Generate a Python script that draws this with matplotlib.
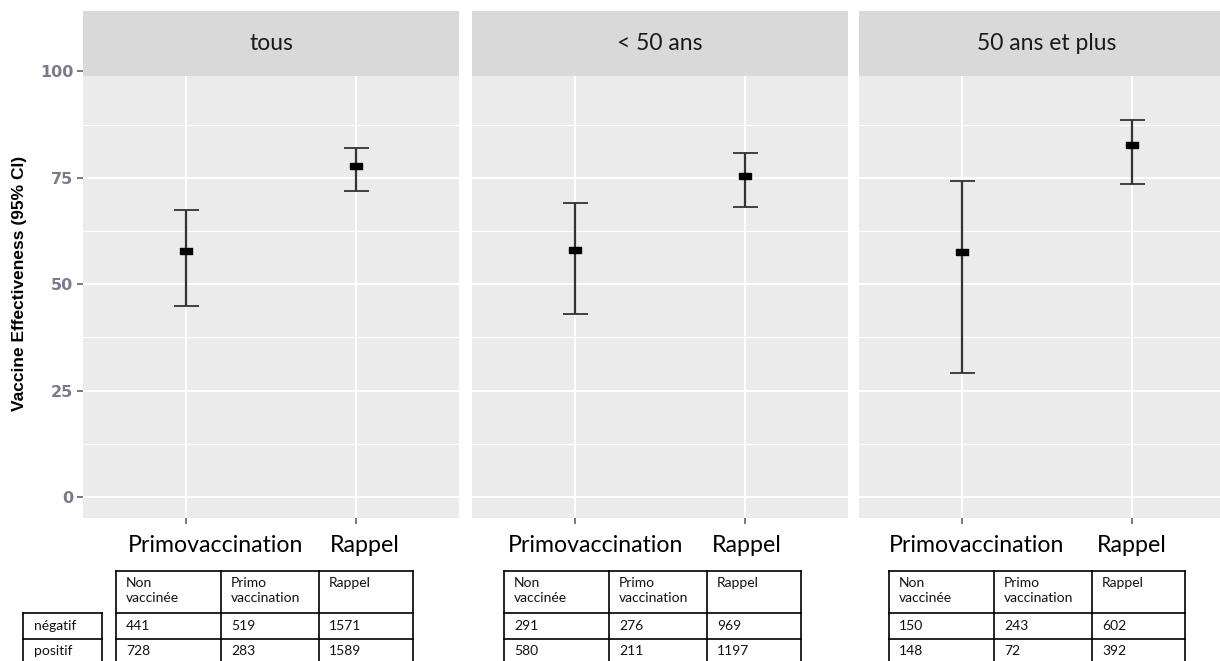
import numpy as np
import matplotlib.pyplot as plt
from matplotlib.patches import Rectangle

# ---- data ----
facets = ['tous', '< 50 ans', '50 ans et plus']
groupes = ['Primovaccination', 'Rappel']
ve = [[57.8, 77.8], [58.0, 75.4], [57.5, 82.8]]
ve_bas = [[44.9, 72.0], [43.1, 68.1], [29.2, 73.6]]
ve_haut = [[67.4, 81.9], [69.0, 80.9], [74.3, 88.5]]
y_ticks = [0, 25, 50, 75, 100]
y_minor = [12.5, 37.5, 62.5, 87.5]

col_labels = ['Non\nvaccinée', 'Primo\nvaccination', 'Rappel']
row_labels = ['négatif', 'positif']
effectifs = [
    [[441, 519, 1571], [728, 283, 1589]],
    [[291, 276, 969], [580, 211, 1197]],
    [[150, 243, 602], [148, 72, 392]],
]

W, H = 1220, 661
TXT = 'Lato'

fig = plt.figure(figsize=(W / 100, H / 100), dpi=100)

# overlay in pixel coordinates for the annotation boxes
ov = fig.add_axes([0, 0, 1, 1], zorder=5)
ov.set_xlim(0, W)
ov.set_ylim(H, 0)
ov.axis('off')
ov.patch.set_visible(False)

panel_left = [83, 472, 859]
panel_w = 376
top, bottom = 11, 517.7
strip_h = 65
y0 = -4.87
y1 = 114.2

# little black rectangle marker (wider than tall, as in the picture)
rect = [(-1, -0.58), (1, -0.58), (1, 0.58), (-1, 0.58), (-1, -0.58)]

x = np.arange(1, len(groupes) + 1)
for i, name in enumerate(facets):
    l = panel_left[i]
    ax = fig.add_axes([l / W, 1 - bottom / H, panel_w / W, (bottom - top) / H])
    ax.set_facecolor('#EBEBEB')
    ax.set_xlim(0.4, 2.6)
    ax.set_ylim(y0, y1)
    ax.set_axisbelow(True)
    for s in ax.spines.values():
        s.set_visible(False)

    v = np.array(ve[i])
    lo = v - np.array(ve_bas[i])
    hi = np.array(ve_haut[i]) - v
    ax.errorbar(x, v, yerr=[lo, hi], fmt='none', ecolor='#333333',
                elinewidth=1.6, capsize=9, capthick=1.3, zorder=3)
    ax.plot(x, v, ls='none', marker=rect, ms=8.5, color='black', zorder=4)

    ax.set_xticks(x)
    ax.set_xticklabels([])
    ax.set_yticks(y_ticks)
    ax.set_yticks(y_minor, minor=True)
    ax.grid(which='major', color='white', lw=1.5)
    ax.grid(which='minor', axis='y', color='white', lw=0.8)
    ax.tick_params(axis='x', length=4, width=1.1, color='#555555')
    ax.tick_params(axis='y', which='minor', length=0)
    if i == 0:
        ax.tick_params(axis='y', length=4, width=1.1, color='#555555',
                       labelcolor='#7A7A8C', labelsize=11.5, pad=3)
        ax.set_yticklabels([str(t) for t in y_ticks], fontweight='bold')
    else:
        ax.tick_params(axis='y', length=0, labelleft=False)

    # facet strip
    sf = strip_h / (bottom - top)
    ax.add_patch(Rectangle((0, 1 - sf), 1, sf, transform=ax.transAxes,
                           facecolor='#D9D9D9', edgecolor='none', zorder=2,
                           clip_on=False))
    ax.text(0.5, 1 - sf / 2, name, transform=ax.transAxes, ha='center',
            va='center', fontsize=16.5, color='#1A1A1A', family=TXT, zorder=6)

fig.text(20 / W, 1 - 283 / H, 'Vaccine Effectiveness (95% CI)', rotation=90,
         ha='center', va='center', fontsize=12.5, fontweight='bold',
         family=['Liberation Sans Narrow', 'Liberation Sans', 'DejaVu Sans'])

# category labels under each panel
lab_x = [[128, 330], [508, 712], [889, 1097]]
for i in range(3):
    for j, g in enumerate(groupes):
        ov.text(lab_x[i][j], 545, g, ha='left', va='center', fontsize=16.7,
                family=TXT, color='black')

# count tables
tab_cols = [[116, 221, 319, 413], [504, 609, 707, 801], [889, 994, 1092, 1185]]
t_top, t_head, t_r1, t_r2 = 571, 613, 639, 665
lw = 1.2
fs_tab = 10
for k in range(3):
    xs = tab_cols[k]
    for yy in (t_top, t_head, t_r1):
        ov.plot([xs[0], xs[-1]], [yy, yy], color='black', lw=lw)
    for xx in xs:
        ov.plot([xx, xx], [t_top, t_r2], color='black', lw=lw)
    for c, lab in enumerate(col_labels):
        ov.text(xs[c] + 10, 577, lab, ha='left', va='top', fontsize=fs_tab,
                family=TXT, linespacing=1.35, color='#111111')
    for r in range(2):
        yc = (t_head + t_r1) / 2 if r == 0 else (t_r1 + t_r2) / 2 - 1
        for c in range(3):
            ov.text(xs[c] + 10, yc, str(effectifs[k][r][c]), ha='left',
                    va='center', fontsize=fs_tab, family=TXT, color='#111111')

# row label box (only next to the first table)
rx = [23, 102]
for yy in (t_head, t_r1):
    ov.plot(rx, [yy, yy], color='black', lw=lw)
for xx in rx:
    ov.plot([xx, xx], [t_head, t_r2], color='black', lw=lw)
for r, lab in enumerate(row_labels):
    yc = (t_head + t_r1) / 2 if r == 0 else (t_r1 + t_r2) / 2 - 1
    ov.text(rx[0] + 11, yc, lab, ha='left', va='center', fontsize=fs_tab,
            family=TXT, color='#111111')

fig.savefig('out.png', dpi=100)
